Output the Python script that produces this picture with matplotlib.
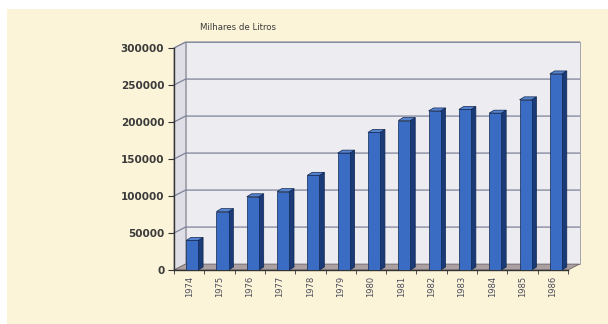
import numpy as np
import matplotlib.pyplot as plt
from matplotlib.patches import Polygon, Rectangle

anos = ["1974", "1975", "1976", "1977", "1978", "1979", "1980",
        "1981", "1982", "1983", "1984", "1985", "1986"]
litros = [40000, 79000, 99000, 106000, 128000, 158000, 186000,
          202000, 215000, 217000, 212000, 230000, 265000]
y_ticks = [0, 50000, 100000, 150000, 200000, 250000, 300000]

creme = "#fbf4d8"
parede = "#edecf0"
parede_lado = "#dfdee6"
chao = "#aaa0a2"
grade = "#7e8299"
azul = "#3a6cc3"
azul_lado = "#1b3b78"
azul_topo = "#5583d0"

fig = plt.figure(figsize=(6.08, 3.24), dpi=100)
fig.patch.set_facecolor("white")
fig.patches.append(Rectangle((7 / 608, 0), 1, 1 - 9 / 324, transform=fig.transFigure,
                             facecolor=creme, edgecolor="none", zorder=-10))

ax = fig.add_axes([174 / 608, 54 / 324, 394 / 608, 222 / 324])
ax.set_facecolor("none")
x = np.arange(len(anos))
xmin, xmax = -0.5, len(anos) - 0.5
ymax = 300000
ax.set_xlim(xmin, xmax)
ax.set_ylim(0, ymax)

# profundidade do gráfico 3D em unidades de dados
dx, dy = 0.38, 8000

# parede do fundo, parede lateral e chão
ax.add_patch(Polygon([(xmin + dx, dy), (xmax + dx, dy), (xmax + dx, ymax + dy),
                      (xmin + dx, ymax + dy)], closed=True, facecolor=parede,
                     edgecolor="#9a9aa8", lw=0.6, clip_on=False, zorder=0))
ax.add_patch(Polygon([(xmin, 0), (xmin + dx, dy), (xmin + dx, ymax + dy), (xmin, ymax)],
                     closed=True, facecolor=parede_lado, edgecolor="#9a9aa8", lw=0.6,
                     clip_on=False, zorder=0))
ax.add_patch(Polygon([(xmin, 0), (xmax, 0), (xmax + dx, dy), (xmin + dx, dy)],
                     closed=True, facecolor=chao, edgecolor="#6e6468", lw=0.6,
                     clip_on=False, zorder=1))
for t in y_ticks[1:]:
    ax.plot([xmin, xmin + dx, xmax + dx], [t, t + dy, t + dy], color=grade, lw=0.9,
            clip_on=False, zorder=0.5)

# barras com face lateral e topo
w = 0.4
bw, bh = 0.16, 4000
off = 0.1
for xi, v in zip(x, litros):
    x0 = xi + off - w / 2
    x1 = xi + off + w / 2
    ax.add_patch(Polygon([(x1, 0), (x1 + bw, bh), (x1 + bw, v + bh), (x1, v)], closed=True,
                         facecolor=azul_lado, edgecolor="#10264f", lw=0.5, zorder=3))
    ax.add_patch(Polygon([(x0, v), (x1, v), (x1 + bw, v + bh), (x0 + bw, v + bh)], closed=True,
                         facecolor=azul_topo, edgecolor="#10264f", lw=0.5, zorder=3))
ax.bar(x + off, litros, width=w, color=azul, edgecolor="#10264f", linewidth=0.5, zorder=4)

ax.set_yticks(y_ticks)
ax.set_yticklabels([str(t) for t in y_ticks], fontsize=7.5, fontweight="bold", color="#3a3a3a")
ax.set_xticks(x)
ax.set_xticklabels(anos, rotation=90, fontsize=6, color="#4a4a5a")
ax.set_xticks(np.arange(xmin, xmax + 0.01, 1), minor=True)
ax.tick_params(axis="x", which="major", length=0, pad=4)
ax.tick_params(axis="x", which="minor", length=3, color="#333333", direction="out")
ax.tick_params(axis="y", length=4, color="#333333", direction="out", pad=3)
for s in ["top", "right"]:
    ax.spines[s].set_visible(False)
ax.spines["left"].set_color("#333333")
ax.spines["bottom"].set_color("#333333")
ax.spines["left"].set_linewidth(1.0)
ax.spines["bottom"].set_linewidth(1.0)

fig.text(238 / 608, 1 - 27 / 324, "Milhares de Litros", fontsize=6.2, color="#3a3a3a",
         ha="center", va="center")

fig.savefig("out.png", dpi=100, facecolor=fig.get_facecolor())
